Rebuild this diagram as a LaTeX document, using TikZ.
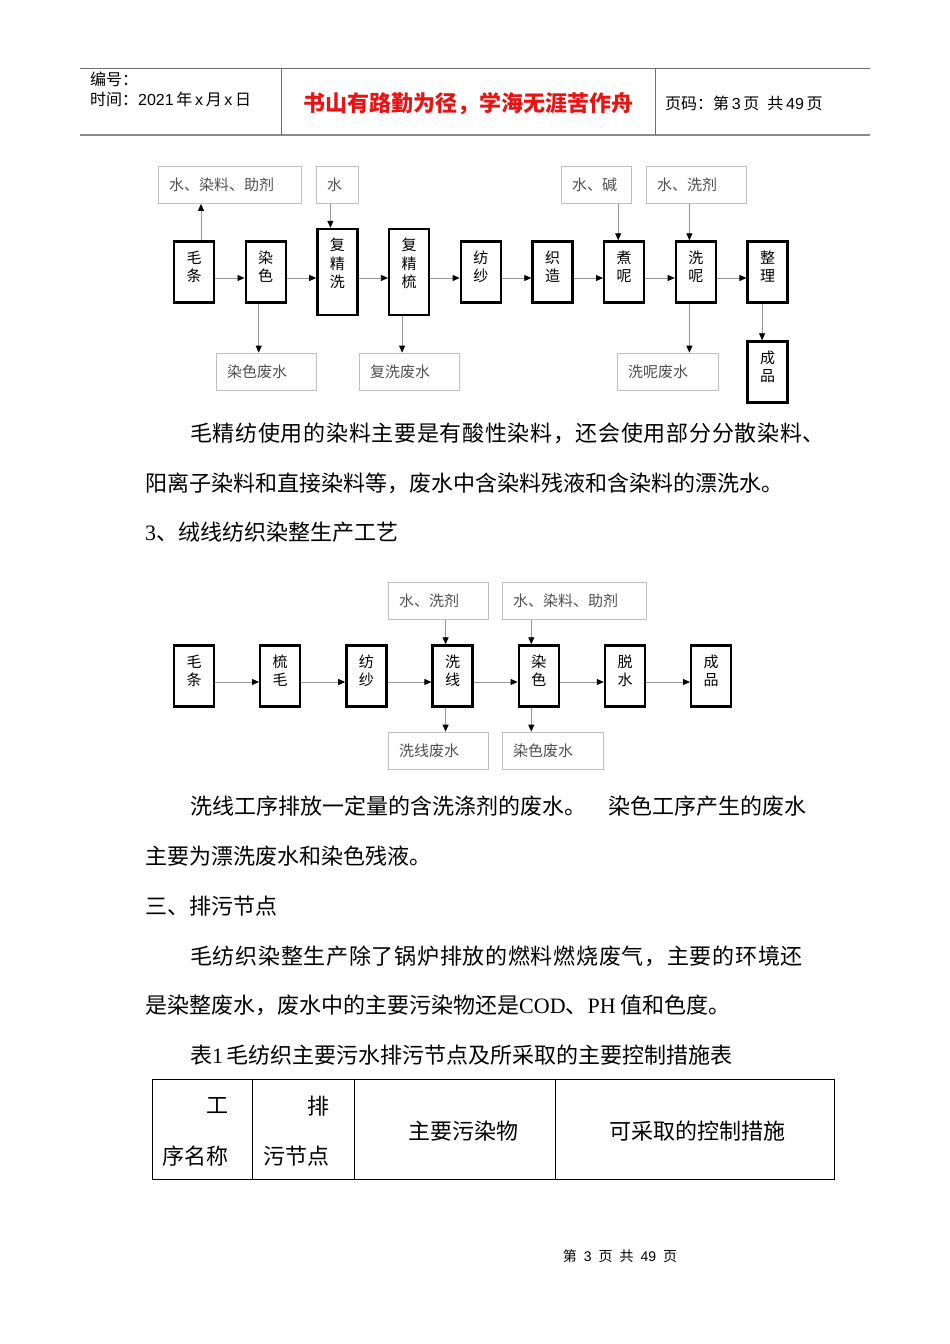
\documentclass[tikz,border=0pt]{standalone}
\usepackage{fontspec}
\setmainfont{Noto Sans CJK SC}
\newfontfamily\tms{Liberation Serif}
\newfontfamily\ari{Liberation Sans}
\usetikzlibrary{positioning,arrows.meta}

\definecolor{boxgray}{RGB}{192,192,192}
\definecolor{linegray}{RGB}{150,150,150}
\definecolor{txtgray}{RGB}{80,80,80}
\definecolor{rulegray}{RGB}{110,110,110}
\definecolor{titlered}{RGB}{230,20,20}

% spread a justified line: glue after every character
\def\spreadchars#1{\ifx#1\relax\else#1\hfil\expandafter\spreadchars\fi}
\newcommand{\fullline}[2]{\makebox[#1][l]{\spreadchars#2\relax}}

\begin{document}
\begin{tikzpicture}[x=1pt,y=-1pt,on grid,node distance=71.7pt,
    proc/.style={draw,line width=2.4pt,minimum width=40pt,minimum height=61pt,inner sep=0pt},
    tall/.style={minimum height=86pt},
    ptxt/.style={anchor=north,yshift=-10pt,align=center,inner sep=0pt,font=\fontsize{15}{18.5}\selectfont},
    src/.style={draw=boxgray,line width=0.8pt,minimum height=37pt,inner xsep=11pt,inner ysep=0pt,text width=#1,align=left,text=txtgray,font=\fontsize{15}{18}\selectfont},
    flow/.style={draw=linegray,line width=0.8pt,-{Triangle[length=7pt,width=6pt,color=black]}},
    body/.style={anchor=west,inner sep=0pt,font=\fontsize{22}{26}\selectfont},
    hdr/.style={anchor=west,inner sep=0pt,font=\fontsize{16}{19}\selectfont}]
\path[use as bounding box,fill=white] (0,0) rectangle (950,1344);

% page header
\draw[rulegray,line width=0.8pt] (80,68) -- (870,68);
\draw[rulegray!80,line width=2pt] (80,135) -- (870,135);
\draw[rulegray,line width=0.8pt] (281,68) -- (281,135) (655,68) -- (655,135);
\node[hdr] (hno) at (90,79) {编号：};
\node[hdr] (hdate) at (90,99) {时间：{\ari 2021}\,年\,{\ari x}\,月\,{\ari x}\,日};
\node[font=\fontsize{22}{26}\selectfont\bfseries,text=titlered,inner sep=0pt] (htitle) at (468,104) {书山有路勤为径，学海无涯苦作舟};
\node[hdr] (hpage) at (665,103) {页码：第\,{\ari 3}\,页\enspace 共\,{\ari 49}\,页};

% flow chart 1
\node[proc,label={[ptxt]north:毛\\条}] (mt1) at (194,272) {};
\node[proc,label={[ptxt]north:染\\色}] (rs1) [right=of mt1] {};
\node[proc,tall,label={[ptxt]north:复\\精\\洗}] (fjx) [right=of rs1] {};
\node[proc,tall,label={[ptxt]north:复\\精\\梳}] (fjs) [right=of fjx] {};
\node[proc,label={[ptxt]north:纺\\纱}] (fs1) [right=of fjs] {};
\node[proc,label={[ptxt]north:织\\造}] (zz) [right=of fs1] {};
\node[proc,label={[ptxt]north:煮\\呢}] (zn) [right=of zz] {};
\node[proc,label={[ptxt]north:洗\\呢}] (xn) [right=of zn] {};
\node[proc,label={[ptxt]north:整\\理}] (zl) [right=of xn] {};
\node[proc,label={[ptxt]north:成\\品}] (cp1) [below=100pt of zl] {};

\node[src=121pt] (in1) at (229.5,185) {水、染料、助剂};
\node[src=20pt] (in2) at (337,185) {水};
\node[src=48pt] (in3) at (596,185) {水、碱};
\node[src=78pt] (in4) at (696,185) {水、洗剂};
\node[src=78pt] (out1) at (266,371.5) {染色废水};
\node[src=78pt] (out2) at (409,371.5) {复洗废水};
\node[src=79pt] (out3) at (667.5,371.5) {洗呢废水};

\foreach \a/\b in {mt1/rs1,rs1/fjx,fjx/fjs,fjs/fs1,fs1/zz,zz/zn,zn/xn,xn/zl}
  \draw[flow] ([yshift=-6pt]\a.east) -- ([yshift=-6pt]\b.west);
\draw[flow] ([xshift=7pt]mt1.north) -- ([xshift=7pt]mt1.north |- in1.south);
\draw[flow] ([xshift=-7pt]fjx.north |- in2.south) -- ([xshift=-7pt]fjx.north);
\draw[flow] ([xshift=-7pt]rs1.south) -- ([xshift=-7pt]rs1.south |- out1.north);
\draw[flow] ([xshift=-7pt]fjs.south) -- ([xshift=-7pt]fjs.south |- out2.north);
\draw[flow] ([xshift=-6pt]zn.north |- in3.south) -- ([xshift=-6pt]zn.north);
\draw[flow] ([xshift=-6.5pt]xn.north |- in4.south) -- ([xshift=-6.5pt]xn.north);
\draw[flow] ([xshift=-6.5pt]xn.south) -- ([xshift=-6.5pt]xn.south |- out3.north);
\draw[flow] ([xshift=-5.5pt]zl.south) -- ([xshift=-5.5pt]zl.south |- cp1.north);

% text
\node[body] (p1a) at (190,433) {\fullline{636pt}{毛精纺使用的染料主要是有酸性染料，还会使用部分分散染料、}};
\node[body] (p1b) at (145,483) {阳离子染料和直接染料等，废水中含染料残液和含染料的漂洗水。};
\node[body] (sec3) at (145,532) {{\tms 3}、绒线纺织染整生产工艺};

% flow chart 2
\begin{scope}[node distance=86.2pt]
\node[proc,label={[ptxt]north:毛\\条}] (mt2) at (194,676) {};
\node[proc,label={[ptxt]north:梳\\毛}] (sm) [right=of mt2] {};
\node[proc,label={[ptxt]north:纺\\纱}] (fs2) [right=of sm] {};
\node[proc,label={[ptxt]north:洗\\线}] (xx) [right=of fs2] {};
\node[proc,label={[ptxt]north:染\\色}] (rs2) [right=of xx] {};
\node[proc,label={[ptxt]north:脱\\水}] (ts) [right=of rs2] {};
\node[proc,label={[ptxt]north:成\\品}] (cp2) [right=of ts] {};
\end{scope}

\node[src=78pt] (in5) at (438,601) {水、洗剂};
\node[src=122pt] (in6) at (574,601) {水、染料、助剂};
\node[src=78pt] (out4) at (438,750.5) {洗线废水};
\node[src=79pt] (out5) at (552.5,750.5) {染色废水};

\foreach \a/\b in {mt2/sm,sm/fs2,fs2/xx,xx/rs2,rs2/ts,ts/cp2}
  \draw[flow] ([yshift=-6pt]\a.east) -- ([yshift=-6pt]\b.west);
\draw[flow] ([xshift=-7pt]xx.north |- in5.south) -- ([xshift=-7pt]xx.north);
\draw[flow] ([xshift=-7pt]xx.south) -- ([xshift=-7pt]xx.south |- out4.north);
\draw[flow] ([xshift=-7.5pt]rs2.north |- in6.south) -- ([xshift=-7.5pt]rs2.north);
\draw[flow] ([xshift=-7.5pt]rs2.south) -- ([xshift=-7.5pt]rs2.south |- out5.north);

% text
\node[body] (p2a) at (190,806) {洗线工序排放一定量的含洗涤剂的废水。　染色工序产生的废水};
\node[body] (p2b) at (145,856) {主要为漂洗废水和染色残液。};
\node[body] (sec4) at (145,906) {三、排污节点};
\node[body] (p3a) at (190,956) {\fullline{614pt}{毛纺织染整生产除了锅炉排放的燃料燃烧废气，主要的环境还}};
\node[body] (p3b) at (145,1005) {是染整废水，废水中的主要污染物还是{\tms COD}、{\tms PH} 值和色度。};
\node[body] (cap) at (190,1055) {表{\tms 1}\,毛纺织主要污水排污节点及所采取的主要控制措施表};

% table 1
\draw[line width=0.8pt] (152,1079) rectangle (834,1179);
\draw[line width=0.8pt] (252,1079) -- (252,1179) (354,1079) -- (354,1179) (555,1079) -- (555,1179);
\node[body,anchor=center] (c1a) at (217,1106) {工};
\node[body] (c1b) at (162,1156) {序名称};
\node[body,anchor=center] (c2a) at (318,1106) {排};
\node[body] (c2b) at (263,1156) {污节点};
\node[body,anchor=center] (c3) at (463,1131) {主要污染物};
\node[body,anchor=center] (c4) at (697,1131) {可采取的控制措施};

% footer
\node[font=\fontsize{14}{16}\selectfont,inner sep=0pt] (foot) at (620,1256) {第\enspace{\ari 3}\enspace 页\enspace 共\enspace{\ari 49}\enspace 页};
\end{tikzpicture}
\end{document}
